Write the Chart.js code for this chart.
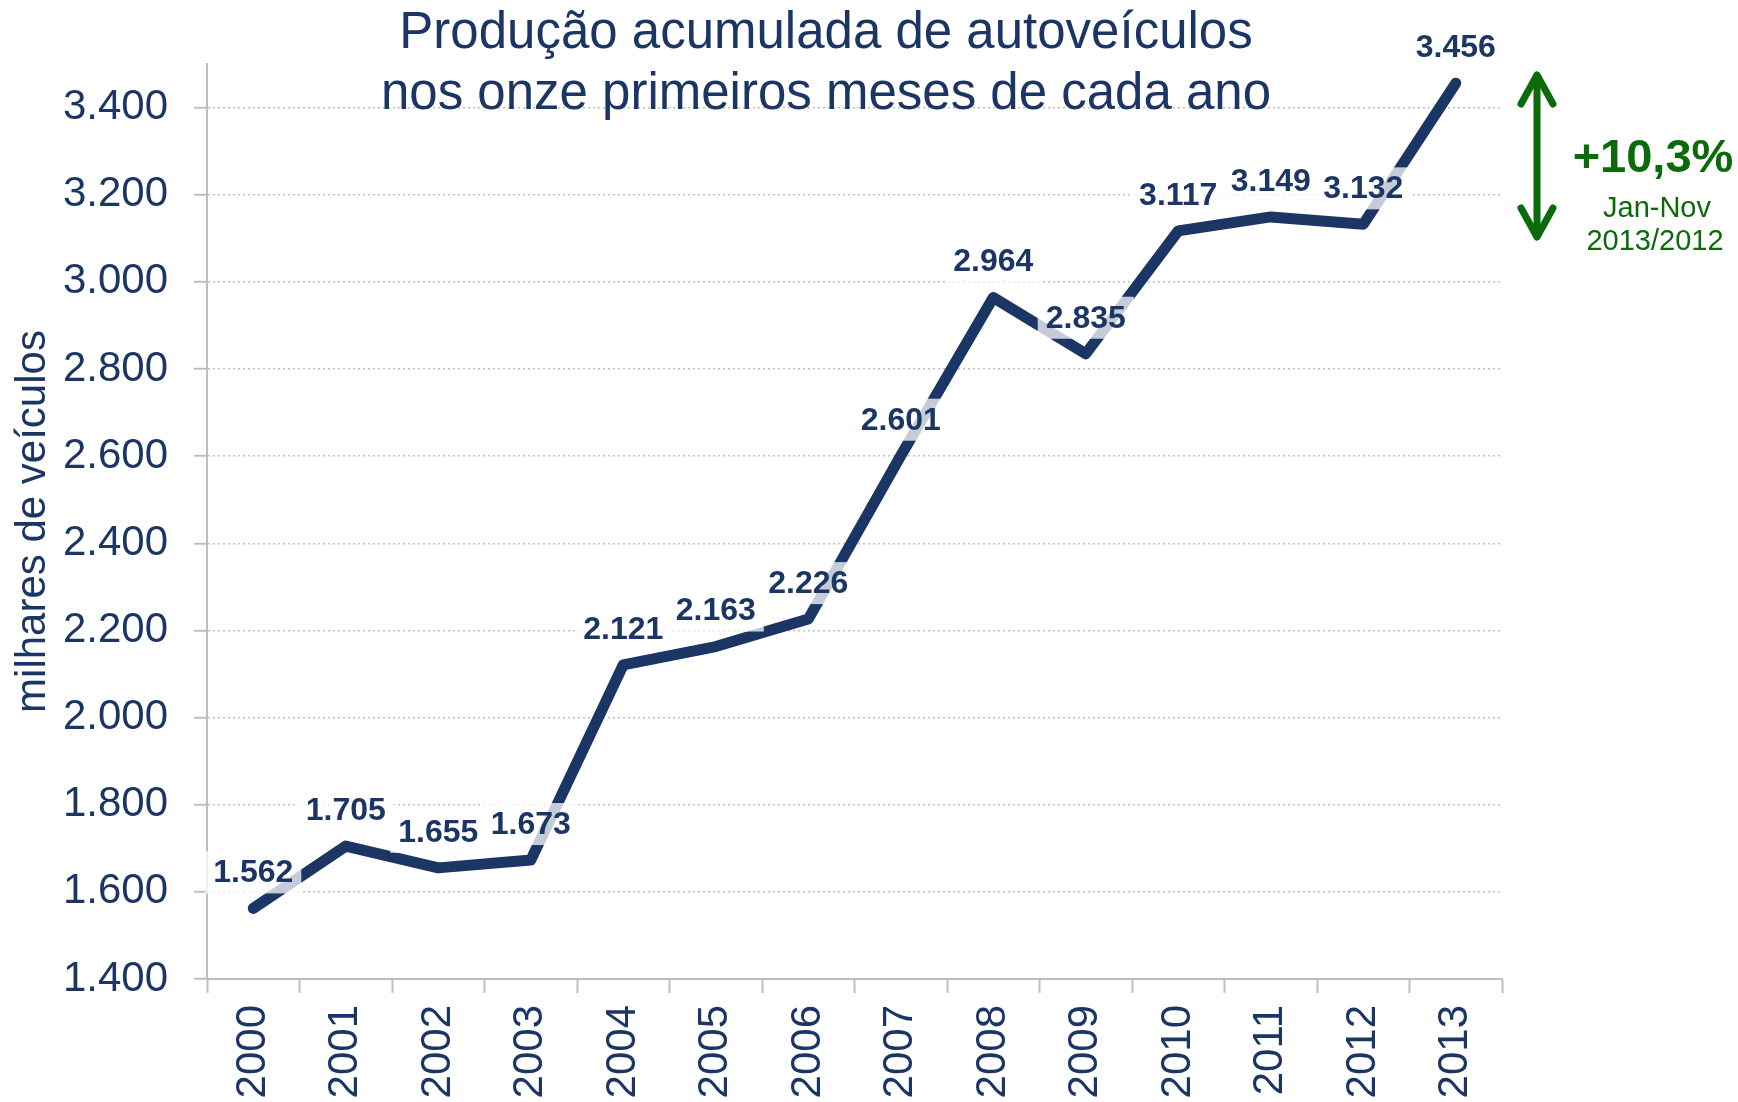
<!DOCTYPE html>
<html>
<head>
<meta charset="utf-8">
<script src="https://cdn.jsdelivr.net/npm/chart.js@4.4.1/dist/chart.umd.min.js"></script>
<style>
  html, body { margin: 0; padding: 0; background: #ffffff; }
  #wrap { width: 1738px; height: 1102px; position: relative; }
</style>
</head>
<body>
<div id="wrap"><canvas id="c"></canvas></div>
<script>
// ---- data ----
const years = ['2000','2001','2002','2003','2004','2005','2006','2007','2008','2009','2010','2011','2012','2013'];
const production = [1562, 1705, 1655, 1673, 2121, 2163, 2226, 2601, 2964, 2835, 3117, 3149, 3132, 3456];
const yTicks = [1400, 1600, 1800, 2000, 2200, 2400, 2600, 2800, 3000, 3200, 3400];
const titleLines = ['Produção acumulada de autoveículos', 'nos onze primeiros meses de cada ano'];
const yAxisTitle = 'milhares de veículos';
const growthText = '+10,3%';
const growthSub = ['Jan-Nov', '2013/2012'];

const FONT = "'Liberation Sans', Arial, Helvetica, sans-serif";
const NAVY = '#1B3564';
const GREEN = '#0B6B0B';
const GRID = '#BFBFBF';

function fmt(v) {
  const s = String(Math.round(v));
  return s.replace(/\B(?=(\d{3})+(?!\d))/g, '.');
}

const overlay = {
  id: 'overlay',
  afterDatasetsDraw(chart) {
    const ctx = chart.ctx;
    const meta = chart.getDatasetMeta(0);
    ctx.save();
    ctx.font = 'bold 32px ' + FONT;
    ctx.textAlign = 'center';
    ctx.textBaseline = 'middle';
    meta.data.forEach((pt, i) => {
      const txt = fmt(production[i]);
      const w = ctx.measureText(txt).width;
      const cx = pt.x, cy = pt.y - 36;
      ctx.fillStyle = 'rgba(255,255,255,0.75)';
      ctx.fillRect(cx - w / 2 - 8, cy - 21, w + 16, 42);
      ctx.fillStyle = NAVY;
      ctx.fillText(txt, cx, cy + 1);
    });
    ctx.restore();
  },
  afterDraw(chart) {
    const ctx = chart.ctx;
    ctx.save();
    // title
    ctx.fillStyle = NAVY;
    ctx.textAlign = 'center';
    ctx.textBaseline = 'middle';
    ctx.font = '51px ' + FONT;
    ctx.fillText(titleLines[0], 826, 34);
    ctx.fillText(titleLines[1], 826, 95);
    // arrow
    ctx.strokeStyle = GREEN;
    ctx.lineWidth = 7;
    ctx.lineCap = 'round';
    ctx.lineJoin = 'round';
    const ax = 1537, top = 75, bot = 237;
    ctx.beginPath();
    ctx.moveTo(ax, top + 2); ctx.lineTo(ax, bot - 2);
    ctx.stroke();
    ctx.beginPath();
    ctx.moveTo(ax - 16, top + 29); ctx.lineTo(ax, top); ctx.lineTo(ax + 16, top + 29);
    ctx.stroke();
    ctx.beginPath();
    ctx.moveTo(ax - 16, bot - 29); ctx.lineTo(ax, bot); ctx.lineTo(ax + 16, bot - 29);
    ctx.stroke();
    // growth text
    ctx.fillStyle = GREEN;
    ctx.font = 'bold 47px ' + FONT;
    ctx.fillText(growthText, 1653, 159);
    ctx.font = '29px ' + FONT;
    ctx.fillText(growthSub[0], 1657, 209);
    ctx.fillText(growthSub[1], 1655, 242);
    ctx.restore();
  }
};

new Chart(document.getElementById('c'), {
  type: 'line',
  data: {
    labels: years,
    datasets: [{
      data: production,
      borderColor: NAVY,
      borderWidth: 11,
      borderCapStyle: 'round',
      borderJoinStyle: 'round',
      pointRadius: 0,
      pointHoverRadius: 0,
      tension: 0,
      fill: false
    }]
  },
  options: {
    responsive: true,
    maintainAspectRatio: false,
    animation: false,
    layout: { padding: { top: 64, right: 236, bottom: 0, left: 0 } },
    plugins: {
      legend: { display: false },
      title: { display: false },
      tooltip: { enabled: false }
    },
    scales: {
      x: {
        type: 'category',
        offset: true,
        grid: {
          offset: true,
          drawOnChartArea: false,
          drawTicks: true,
          tickLength: 14,
          tickColor: GRID,
          tickWidth: 2
        },
        border: { display: true, color: GRID, width: 2 },
        ticks: {
          minRotation: 90,
          maxRotation: 90,
          autoSkip: false,
          padding: 12,
          color: NAVY,
          font: { family: FONT, size: 42 }
        },
        afterFit(scale) { scale.height = 123; }
      },
      y: {
        min: 1400,
        max: 3500,
        afterBuildTicks(scale) { scale.ticks = yTicks.map(v => ({ value: v })); },
        grid: {
          color: GRID,
          lineWidth: 1.5,
          drawTicks: true,
          tickLength: 13,
          tickColor: GRID,
          tickWidth: 2
        },
        border: { display: true, color: GRID, width: 2, dash: [2, 3] },
        ticks: {
          padding: 26,
          color: NAVY,
          font: { family: FONT, size: 42 },
          callback: (v) => fmt(v)
        },
        title: {
          display: true,
          text: yAxisTitle,
          color: NAVY,
          font: { family: FONT, size: 42 },
          padding: { top: 8, bottom: 0 }
        },
        afterFit(scale) { scale.width = 207; }
      }
    }
  },
  plugins: [overlay]
});
</script>
</body>
</html>
